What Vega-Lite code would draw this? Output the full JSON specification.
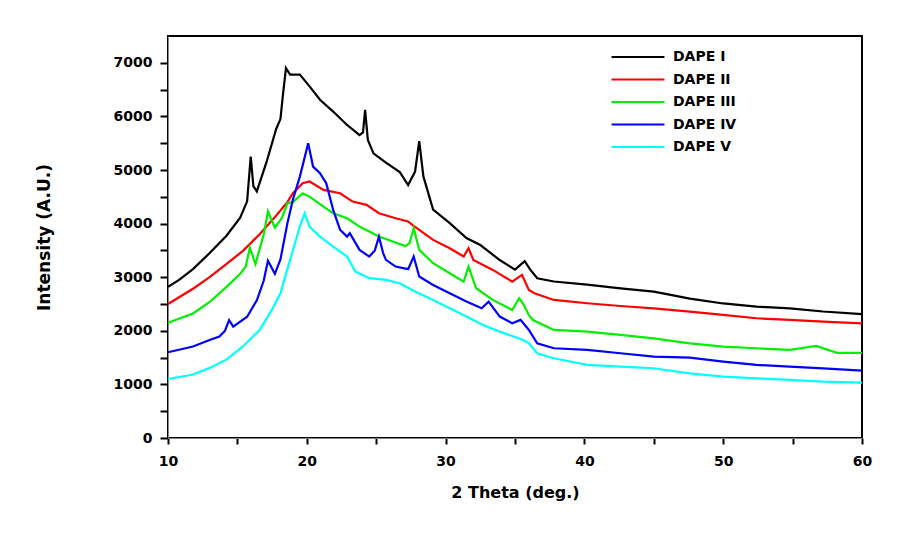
{
  "$schema": "https://vega.github.io/schema/vega-lite/v6.json",
  "width": 694,
  "height": 402,
  "autosize": "none",
  "padding": {"left": 168, "top": 36, "right": 48, "bottom": 112},
  "background": "white",
  "config": {
    "view": {"stroke": "black", "strokeWidth": 2},
    "font": "DejaVu Sans",
    "axis": {"ticks": true, "tickColor": "black", "tickWidth": 2, "grid": false}
  },
  "datasets": {
    "xrd": [
      {"x": 10.0, "s": "DAPE I", "y": 2820}, {"x": 10.8, "s": "DAPE I", "y": 2950}, {"x": 11.8, "s": "DAPE I", "y": 3150}, {"x": 13.0, "s": "DAPE I", "y": 3450}, {"x": 14.2, "s": "DAPE I", "y": 3770}, {"x": 15.2, "s": "DAPE I", "y": 4110}, {"x": 15.7, "s": "DAPE I", "y": 4415}, {"x": 15.96, "s": "DAPE I", "y": 5250}, {"x": 16.15, "s": "DAPE I", "y": 4700}, {"x": 16.4, "s": "DAPE I", "y": 4600}, {"x": 17.1, "s": "DAPE I", "y": 5150}, {"x": 17.8, "s": "DAPE I", "y": 5770}, {"x": 18.1, "s": "DAPE I", "y": 5950}, {"x": 18.3, "s": "DAPE I", "y": 6450}, {"x": 18.5, "s": "DAPE I", "y": 6900}, {"x": 18.8, "s": "DAPE I", "y": 6780}, {"x": 19.5, "s": "DAPE I", "y": 6780}, {"x": 20.2, "s": "DAPE I", "y": 6560}, {"x": 20.95, "s": "DAPE I", "y": 6310}, {"x": 21.9, "s": "DAPE I", "y": 6090}, {"x": 22.9, "s": "DAPE I", "y": 5840}, {"x": 23.8, "s": "DAPE I", "y": 5650}, {"x": 24.05, "s": "DAPE I", "y": 5700}, {"x": 24.2, "s": "DAPE I", "y": 6120}, {"x": 24.4, "s": "DAPE I", "y": 5560}, {"x": 24.8, "s": "DAPE I", "y": 5310}, {"x": 25.75, "s": "DAPE I", "y": 5130}, {"x": 26.7, "s": "DAPE I", "y": 4960}, {"x": 27.3, "s": "DAPE I", "y": 4720}, {"x": 27.8, "s": "DAPE I", "y": 4970}, {"x": 28.1, "s": "DAPE I", "y": 5540}, {"x": 28.4, "s": "DAPE I", "y": 4880}, {"x": 29.1, "s": "DAPE I", "y": 4260}, {"x": 30.3, "s": "DAPE I", "y": 4010}, {"x": 31.5, "s": "DAPE I", "y": 3730}, {"x": 32.5, "s": "DAPE I", "y": 3600}, {"x": 33.9, "s": "DAPE I", "y": 3320}, {"x": 35.0, "s": "DAPE I", "y": 3140}, {"x": 35.7, "s": "DAPE I", "y": 3300}, {"x": 36.1, "s": "DAPE I", "y": 3140}, {"x": 36.6, "s": "DAPE I", "y": 2980}, {"x": 37.8, "s": "DAPE I", "y": 2920}, {"x": 40.2, "s": "DAPE I", "y": 2860}, {"x": 42.6, "s": "DAPE I", "y": 2790}, {"x": 45.0, "s": "DAPE I", "y": 2730}, {"x": 47.6, "s": "DAPE I", "y": 2600}, {"x": 50.0, "s": "DAPE I", "y": 2510}, {"x": 52.4, "s": "DAPE I", "y": 2450}, {"x": 54.8, "s": "DAPE I", "y": 2420}, {"x": 57.2, "s": "DAPE I", "y": 2360}, {"x": 60.0, "s": "DAPE I", "y": 2310},

      {"x": 10.0, "s": "DAPE II", "y": 2500}, {"x": 11.8, "s": "DAPE II", "y": 2785}, {"x": 13.0, "s": "DAPE II", "y": 3000}, {"x": 14.2, "s": "DAPE II", "y": 3246}, {"x": 15.4, "s": "DAPE II", "y": 3492}, {"x": 16.6, "s": "DAPE II", "y": 3800}, {"x": 17.8, "s": "DAPE II", "y": 4150}, {"x": 18.6, "s": "DAPE II", "y": 4400}, {"x": 19.0, "s": "DAPE II", "y": 4566}, {"x": 19.7, "s": "DAPE II", "y": 4753}, {"x": 20.2, "s": "DAPE II", "y": 4785}, {"x": 21.2, "s": "DAPE II", "y": 4629}, {"x": 22.4, "s": "DAPE II", "y": 4566}, {"x": 23.3, "s": "DAPE II", "y": 4411}, {"x": 24.3, "s": "DAPE II", "y": 4349}, {"x": 25.2, "s": "DAPE II", "y": 4193}, {"x": 26.4, "s": "DAPE II", "y": 4100}, {"x": 27.3, "s": "DAPE II", "y": 4040}, {"x": 27.6, "s": "DAPE II", "y": 3976}, {"x": 29.1, "s": "DAPE II", "y": 3696}, {"x": 30.3, "s": "DAPE II", "y": 3541}, {"x": 31.3, "s": "DAPE II", "y": 3385}, {"x": 31.65, "s": "DAPE II", "y": 3541}, {"x": 32.0, "s": "DAPE II", "y": 3323}, {"x": 33.4, "s": "DAPE II", "y": 3136}, {"x": 34.8, "s": "DAPE II", "y": 2918}, {"x": 35.5, "s": "DAPE II", "y": 3043}, {"x": 36.0, "s": "DAPE II", "y": 2763}, {"x": 36.4, "s": "DAPE II", "y": 2700}, {"x": 37.8, "s": "DAPE II", "y": 2576}, {"x": 40.2, "s": "DAPE II", "y": 2514}, {"x": 42.6, "s": "DAPE II", "y": 2463}, {"x": 45.0, "s": "DAPE II", "y": 2420}, {"x": 47.6, "s": "DAPE II", "y": 2358}, {"x": 50.0, "s": "DAPE II", "y": 2296}, {"x": 52.4, "s": "DAPE II", "y": 2234}, {"x": 54.8, "s": "DAPE II", "y": 2202}, {"x": 57.2, "s": "DAPE II", "y": 2171}, {"x": 60.0, "s": "DAPE II", "y": 2140},

      {"x": 10.0, "s": "DAPE III", "y": 2150}, {"x": 11.8, "s": "DAPE III", "y": 2323}, {"x": 13.0, "s": "DAPE III", "y": 2538}, {"x": 14.2, "s": "DAPE III", "y": 2815}, {"x": 15.2, "s": "DAPE III", "y": 3062}, {"x": 15.6, "s": "DAPE III", "y": 3200}, {"x": 15.9, "s": "DAPE III", "y": 3554}, {"x": 16.3, "s": "DAPE III", "y": 3246}, {"x": 16.9, "s": "DAPE III", "y": 3800}, {"x": 17.2, "s": "DAPE III", "y": 4230}, {"x": 17.7, "s": "DAPE III", "y": 3923}, {"x": 18.2, "s": "DAPE III", "y": 4100}, {"x": 18.6, "s": "DAPE III", "y": 4380}, {"x": 19.0, "s": "DAPE III", "y": 4400}, {"x": 19.7, "s": "DAPE III", "y": 4566}, {"x": 20.2, "s": "DAPE III", "y": 4504}, {"x": 21.2, "s": "DAPE III", "y": 4318}, {"x": 21.9, "s": "DAPE III", "y": 4193}, {"x": 22.9, "s": "DAPE III", "y": 4100}, {"x": 23.8, "s": "DAPE III", "y": 3944}, {"x": 24.5, "s": "DAPE III", "y": 3851}, {"x": 25.2, "s": "DAPE III", "y": 3758}, {"x": 26.2, "s": "DAPE III", "y": 3665}, {"x": 27.1, "s": "DAPE III", "y": 3580}, {"x": 27.4, "s": "DAPE III", "y": 3634}, {"x": 27.7, "s": "DAPE III", "y": 3914}, {"x": 28.1, "s": "DAPE III", "y": 3510}, {"x": 29.1, "s": "DAPE III", "y": 3261}, {"x": 30.3, "s": "DAPE III", "y": 3074}, {"x": 31.3, "s": "DAPE III", "y": 2918}, {"x": 31.65, "s": "DAPE III", "y": 3198}, {"x": 32.2, "s": "DAPE III", "y": 2794}, {"x": 33.4, "s": "DAPE III", "y": 2576}, {"x": 34.8, "s": "DAPE III", "y": 2389}, {"x": 35.3, "s": "DAPE III", "y": 2607}, {"x": 35.6, "s": "DAPE III", "y": 2500}, {"x": 36.0, "s": "DAPE III", "y": 2290}, {"x": 36.3, "s": "DAPE III", "y": 2200}, {"x": 37.8, "s": "DAPE III", "y": 2016}, {"x": 40.2, "s": "DAPE III", "y": 1985}, {"x": 42.6, "s": "DAPE III", "y": 1923}, {"x": 45.0, "s": "DAPE III", "y": 1860}, {"x": 47.6, "s": "DAPE III", "y": 1767}, {"x": 50.0, "s": "DAPE III", "y": 1705}, {"x": 52.4, "s": "DAPE III", "y": 1674}, {"x": 54.8, "s": "DAPE III", "y": 1643}, {"x": 56.7, "s": "DAPE III", "y": 1717}, {"x": 58.2, "s": "DAPE III", "y": 1590}, {"x": 60.0, "s": "DAPE III", "y": 1590},

      {"x": 10.0, "s": "DAPE IV", "y": 1600}, {"x": 11.8, "s": "DAPE IV", "y": 1708}, {"x": 13.0, "s": "DAPE IV", "y": 1830}, {"x": 13.7, "s": "DAPE IV", "y": 1892}, {"x": 14.1, "s": "DAPE IV", "y": 2000}, {"x": 14.4, "s": "DAPE IV", "y": 2200}, {"x": 14.7, "s": "DAPE IV", "y": 2077}, {"x": 15.7, "s": "DAPE IV", "y": 2262}, {"x": 16.4, "s": "DAPE IV", "y": 2569}, {"x": 16.9, "s": "DAPE IV", "y": 2938}, {"x": 17.2, "s": "DAPE IV", "y": 3308}, {"x": 17.7, "s": "DAPE IV", "y": 3062}, {"x": 18.1, "s": "DAPE IV", "y": 3330}, {"x": 18.6, "s": "DAPE IV", "y": 4000}, {"x": 19.0, "s": "DAPE IV", "y": 4450}, {"x": 19.5, "s": "DAPE IV", "y": 4877}, {"x": 20.1, "s": "DAPE IV", "y": 5500}, {"x": 20.45, "s": "DAPE IV", "y": 5064}, {"x": 20.95, "s": "DAPE IV", "y": 4940}, {"x": 21.4, "s": "DAPE IV", "y": 4753}, {"x": 21.9, "s": "DAPE IV", "y": 4256}, {"x": 22.4, "s": "DAPE IV", "y": 3883}, {"x": 22.9, "s": "DAPE IV", "y": 3758}, {"x": 23.1, "s": "DAPE IV", "y": 3820}, {"x": 23.8, "s": "DAPE IV", "y": 3510}, {"x": 24.5, "s": "DAPE IV", "y": 3385}, {"x": 24.9, "s": "DAPE IV", "y": 3500}, {"x": 25.2, "s": "DAPE IV", "y": 3758}, {"x": 25.5, "s": "DAPE IV", "y": 3450}, {"x": 25.7, "s": "DAPE IV", "y": 3323}, {"x": 26.4, "s": "DAPE IV", "y": 3198}, {"x": 27.3, "s": "DAPE IV", "y": 3150}, {"x": 27.7, "s": "DAPE IV", "y": 3385}, {"x": 28.1, "s": "DAPE IV", "y": 3012}, {"x": 29.1, "s": "DAPE IV", "y": 2856}, {"x": 30.3, "s": "DAPE IV", "y": 2701}, {"x": 31.5, "s": "DAPE IV", "y": 2545}, {"x": 32.6, "s": "DAPE IV", "y": 2421}, {"x": 33.1, "s": "DAPE IV", "y": 2545}, {"x": 33.9, "s": "DAPE IV", "y": 2265}, {"x": 34.8, "s": "DAPE IV", "y": 2141}, {"x": 35.4, "s": "DAPE IV", "y": 2203}, {"x": 36.0, "s": "DAPE IV", "y": 2016}, {"x": 36.6, "s": "DAPE IV", "y": 1767}, {"x": 37.8, "s": "DAPE IV", "y": 1674}, {"x": 40.2, "s": "DAPE IV", "y": 1643}, {"x": 42.6, "s": "DAPE IV", "y": 1581}, {"x": 45.0, "s": "DAPE IV", "y": 1519}, {"x": 47.6, "s": "DAPE IV", "y": 1500}, {"x": 50.0, "s": "DAPE IV", "y": 1425}, {"x": 52.4, "s": "DAPE IV", "y": 1363}, {"x": 54.8, "s": "DAPE IV", "y": 1332}, {"x": 57.2, "s": "DAPE IV", "y": 1300}, {"x": 60.0, "s": "DAPE IV", "y": 1257},

      {"x": 10.0, "s": "DAPE V", "y": 1100}, {"x": 11.8, "s": "DAPE V", "y": 1185}, {"x": 13.0, "s": "DAPE V", "y": 1308}, {"x": 14.2, "s": "DAPE V", "y": 1461}, {"x": 15.4, "s": "DAPE V", "y": 1708}, {"x": 16.6, "s": "DAPE V", "y": 2015}, {"x": 17.5, "s": "DAPE V", "y": 2400}, {"x": 18.1, "s": "DAPE V", "y": 2700}, {"x": 18.6, "s": "DAPE V", "y": 3150}, {"x": 19.0, "s": "DAPE V", "y": 3500}, {"x": 19.5, "s": "DAPE V", "y": 3950}, {"x": 19.85, "s": "DAPE V", "y": 4193}, {"x": 20.2, "s": "DAPE V", "y": 3944}, {"x": 20.95, "s": "DAPE V", "y": 3758}, {"x": 21.9, "s": "DAPE V", "y": 3571}, {"x": 22.9, "s": "DAPE V", "y": 3385}, {"x": 23.5, "s": "DAPE V", "y": 3105}, {"x": 24.5, "s": "DAPE V", "y": 2981}, {"x": 25.7, "s": "DAPE V", "y": 2950}, {"x": 26.7, "s": "DAPE V", "y": 2887}, {"x": 27.8, "s": "DAPE V", "y": 2732}, {"x": 29.1, "s": "DAPE V", "y": 2576}, {"x": 30.3, "s": "DAPE V", "y": 2421}, {"x": 31.5, "s": "DAPE V", "y": 2265}, {"x": 32.7, "s": "DAPE V", "y": 2110}, {"x": 33.9, "s": "DAPE V", "y": 1985}, {"x": 34.9, "s": "DAPE V", "y": 1892}, {"x": 35.6, "s": "DAPE V", "y": 1829}, {"x": 36.0, "s": "DAPE V", "y": 1767}, {"x": 36.6, "s": "DAPE V", "y": 1581}, {"x": 37.8, "s": "DAPE V", "y": 1487}, {"x": 40.2, "s": "DAPE V", "y": 1363}, {"x": 42.6, "s": "DAPE V", "y": 1332}, {"x": 45.0, "s": "DAPE V", "y": 1301}, {"x": 47.6, "s": "DAPE V", "y": 1207}, {"x": 50.0, "s": "DAPE V", "y": 1145}, {"x": 52.4, "s": "DAPE V", "y": 1114}, {"x": 54.8, "s": "DAPE V", "y": 1083}, {"x": 57.2, "s": "DAPE V", "y": 1052}, {"x": 60.0, "s": "DAPE V", "y": 1033}
    ]
  },
  "data": {"name": "xrd"},
  "mark": {"type": "line", "strokeWidth": 2.2},
  "encoding": {
    "x": {
      "field": "x", "type": "quantitative",
      "scale": {"domain": [10, 60], "nice": false, "zero": false},
      "axis": {
        "values": [10, 15, 20, 25, 30, 35, 40, 45, 50, 55, 60],
        "format": "d",
        "labelExpr": "datum.value % 10 === 0 ? datum.label : ''",
        "tickSize": 6,
        "labelFont": "DejaVu Sans", "labelFontWeight": "bold", "labelFontSize": 14, "labelColor": "black",
        "labelPadding": 10, "labelFlush": false, "labelOverlap": false,
        "title": "2 Theta (deg.)", "titleFont": "DejaVu Sans", "titleFontWeight": "bold", "titleFontSize": 16,
        "titleColor": "black", "titlePadding": 16
      }
    },
    "y": {
      "field": "y", "type": "quantitative",
      "scale": {"domain": [0, 7500], "nice": false},
      "axis": {
        "values": [0, 500, 1000, 1500, 2000, 2500, 3000, 3500, 4000, 4500, 5000, 5500, 6000, 6500, 7000],
        "format": "d",
        "labelExpr": "datum.value % 1000 === 0 ? datum.label : ''",
        "tickSize": 8,
        "labelFont": "DejaVu Sans", "labelFontWeight": "bold", "labelFontSize": 14, "labelColor": "black",
        "labelPadding": 8, "labelOverlap": false,
        "title": "Intensity (A.U.)", "titleFont": "DejaVu Sans", "titleFontWeight": "bold", "titleFontSize": 17,
        "titleColor": "black", "titlePadding": 60
      }
    },
    "color": {
      "field": "s", "type": "nominal",
      "scale": {
        "domain": ["DAPE I", "DAPE II", "DAPE III", "DAPE IV", "DAPE V"],
        "range": ["#000000", "#ff0000", "#00f000", "#0000ff", "#00ffff"]
      },
      "legend": {
        "orient": "none", "legendX": 463, "legendY": 14,
        "title": null,
        "symbolType": "M-5,0H5", "symbolSize": 112, "symbolStrokeWidth": 2,
        "labelFont": "DejaVu Sans", "labelFontWeight": "bold", "labelFontSize": 14,
        "labelOffset": 28, "rowPadding": 8.5,
        "encoding": {"labels": {"update": {"fill": {"scale": "color", "field": "value"}}}}
      }
    }
  }
}
